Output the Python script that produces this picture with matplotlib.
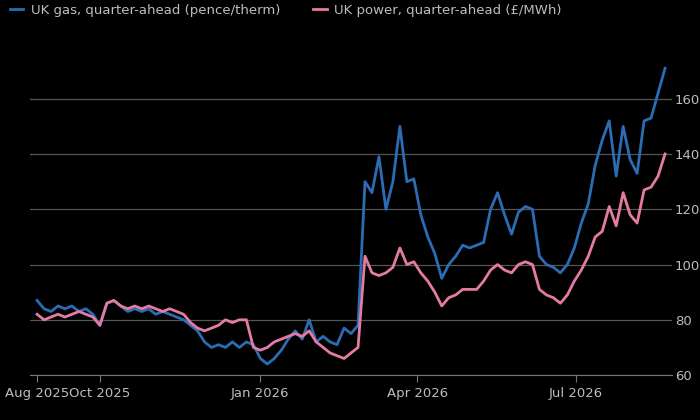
import numpy as np
import pandas as pd
import matplotlib.pyplot as plt
import matplotlib.dates as mdates

# Prix UK, un point tous les 4 jours depuis fin août 2025
gas = [87, 84, 83, 85, 84, 85, 83, 84, 82, 78, 86, 87, 85, 83, 84, 83, 84, 82, 83, 82,
       81, 80, 78, 76, 72, 70, 71, 70, 72, 70, 72, 71, 66, 64, 66, 69, 73, 76, 73, 80,
       72, 74, 72, 71, 77, 75, 78,
       130, 126, 139, 120, 130, 150, 130, 131, 118, 110, 104, 95, 100, 103, 107, 106, 107,
       108, 120, 126, 118, 111, 119, 121, 120, 103, 100, 99, 97, 100, 106, 115, 122, 136,
       145, 152, 132, 150, 138, 133, 152, 153, 162, 171]
power = [82, 80, 81, 82, 81, 82, 83, 82, 81, 78, 86, 87, 85, 84, 85, 84, 85, 84, 83, 84,
         83, 82, 79, 77, 76, 77, 78, 80, 79, 80, 80, 70, 69, 70, 72, 73, 74, 75, 74, 76,
         72, 70, 68, 67, 66, 68, 70,
         103, 97, 96, 97, 99, 106, 100, 101, 97, 94, 90, 85, 88, 89, 91, 91, 91, 94, 98,
         100, 98, 97, 100, 101, 100, 91, 89, 88, 86, 89, 94, 98, 103, 110, 112, 121, 114,
         126, 118, 115, 127, 128, 132, 140]
dates = pd.date_range("2025-08-26", periods=len(gas), freq="4D")

tick_dates = pd.to_datetime(["2025-08-26", "2025-10-01", "2026-01-01", "2026-04-01", "2026-07-01"])
tick_labels = ["Aug 2025", "Oct 2025", "Jan 2026", "Apr 2026", "Jul 2026"]

fg = "#bdbdbd"
fig = plt.figure(figsize=(7, 4.2), dpi=100, facecolor="black")
ax = fig.add_axes([0.043, 0.107, 0.917, 0.75], facecolor="black")

ax.plot(dates, gas, color="#2a6db5", lw=2.0, label="UK gas, quarter-ahead (pence/therm)")
ax.plot(dates, power, color="#e57ba3", lw=2.0, label="UK power, quarter-ahead (£/MWh)")

ax.set_ylim(60, 174)
ax.set_xlim(pd.Timestamp("2025-08-22"), pd.Timestamp("2026-08-25"))
ax.set_yticks([60, 80, 100, 120, 140, 160])
ax.yaxis.tick_right()
ax.grid(axis="y", color="#555555", lw=0.9)
ax.set_axisbelow(True)
for s in ax.spines.values():
    s.set_visible(False)
ax.spines["bottom"].set_visible(True)
ax.spines["bottom"].set_color("#777777")
ax.tick_params(axis="y", length=0, colors=fg, labelsize=9.5, pad=2)
ax.tick_params(axis="x", colors=fg, labelsize=9.5, length=5, color="#777777")
ax.set_xticks(tick_dates)
ax.set_xticklabels(tick_labels)

ax.legend(loc="lower left", bbox_to_anchor=(-0.05, 1.1), ncol=2, frameon=False,
          labelcolor=fg, fontsize=9.5, handlelength=1.0, columnspacing=2.5, handletextpad=0.6)

fig.savefig("out.png", dpi=100, facecolor="black")
